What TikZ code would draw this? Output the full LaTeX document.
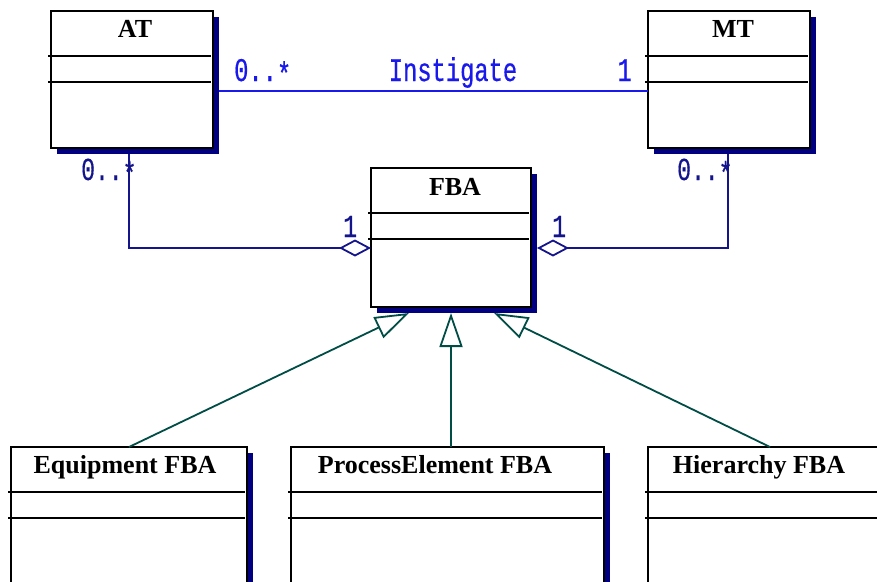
\documentclass[tikz,border=0pt]{standalone}
\usepackage{fontspec}
\setmainfont{Liberation Serif}
\newfontfamily\lblfont[FakeStretch=0.72,FakeBold=0.5]{Liberation Mono}
\usetikzlibrary{arrows.meta,calc}
\definecolor{shadowc}{RGB}{0,0,128}
\definecolor{aggc}{RGB}{20,20,140}
\definecolor{assocc}{RGB}{25,25,235}
\definecolor{inhc}{RGB}{0,77,70}
\tikzset{
  classbox/.style={draw=black, line width=2pt, fill=white, inner sep=0pt, outer sep=0pt, anchor=north west},
  sepline/.style={black, line width=1.8pt},
  classtitle/.style={font=\bfseries\fontsize{26}{30}\selectfont, anchor=base, inner sep=0pt},
  lblA/.style={font=\lblfont\fontsize{33}{36}\selectfont, text=assocc, inner sep=0pt},
  lblB/.style={font=\lblfont\fontsize{32}{36}\selectfont, text=aggc, inner sep=0pt},
  assocline/.style={assocc, line width=1.8pt},
  aggline/.style={aggc, line width=1.8pt, -{Diamond[open, length=32pt, width=17pt]}},
  inhline/.style={inhc, line width=1.8pt, -{Triangle[open, length=34pt, width=23pt]}},
}
\newcommand{\umlcls}[5]{%
  \fill[shadowc] ({#2+6},{#3+6}) rectangle ({#4+6},{#5+6});
  \node[classbox, minimum width={#4-#2}, minimum height={#5-#3}] (#1) at (#2,#3) {};
  \draw[sepline] ({#2-3},{#3+45}) -- ({#4-2},{#3+45});
  \draw[sepline] ({#2-3},{#3+71}) -- ({#4-2},{#3+71});
}
\newcommand{\lowstar}{\raisebox{-4pt}{*}}
\begin{document}
\begin{tikzpicture}[x=1pt,y=-1pt]
\useasboundingbox (0,0) rectangle (877,581);
\clip (0,0) rectangle (877,581);
\fill[white] (0,0) rectangle (877,581);
% classes
\umlcls{AT}{51}{11}{213}{148}
\umlcls{MT}{648}{11}{810}{148}
\umlcls{FBA}{371}{168}{531}{307}
\umlcls{EQ}{11}{447}{247}{640}
\umlcls{PE}{291}{447}{604}{640}
\umlcls{HI}{648}{447}{900}{640}
% titles
\node[classtitle] (ATt) at (135,37) {AT};
\node[classtitle] (MTt) at (733,37) {MT};
\node[classtitle] (FBAt) at (455,195) {FBA};
\node[classtitle] (EQt) at (125,473) {Equipment FBA};
\node[classtitle] (PEt) at (435,473) {ProcessElement FBA};
\node[classtitle] (HIt) at (759,473) {Hierarchy FBA};
% association
\draw[assocline] ($(AT.north east)+(6,80)$) -- ($(MT.north west)+(0,80)$);
\node[lblA, anchor=base west] (l1) at (234,81) {0..\lowstar};
\node[lblA, anchor=base] (l2) at (453,81) {Instigate};
\node[lblA, anchor=base east] (l3) at (632,81) {1};
% aggregations
\draw[aggline] ($(AT.south west)+(78,6)$) |- ($(FBA.north west)+(0,80)$);
\draw[aggline] ($(MT.south west)+(80,6)$) |- ($(FBA.north east)+(6,80)$);
\node[lblB, anchor=base west] (l4) at (81,180) {0..\lowstar};
\node[lblB, anchor=base west] (l5) at (677,180) {0..\lowstar};
\node[lblB, anchor=base west] (l6) at (343,237) {1};
\node[lblB, anchor=base west] (l7) at (552,237) {1};
% generalizations
\draw[inhline] ($(EQ.north west)+(118,0)$) -- ($(FBA.south west)+(38,6)$);
\draw[inhline] ($(PE.north west)+(160,0)$) -- ($(FBA.south west)+(80,6)$);
\draw[inhline] ($(HI.north west)+(122,0)$) -- ($(FBA.south west)+(123,6)$);
\end{tikzpicture}
\end{document}
